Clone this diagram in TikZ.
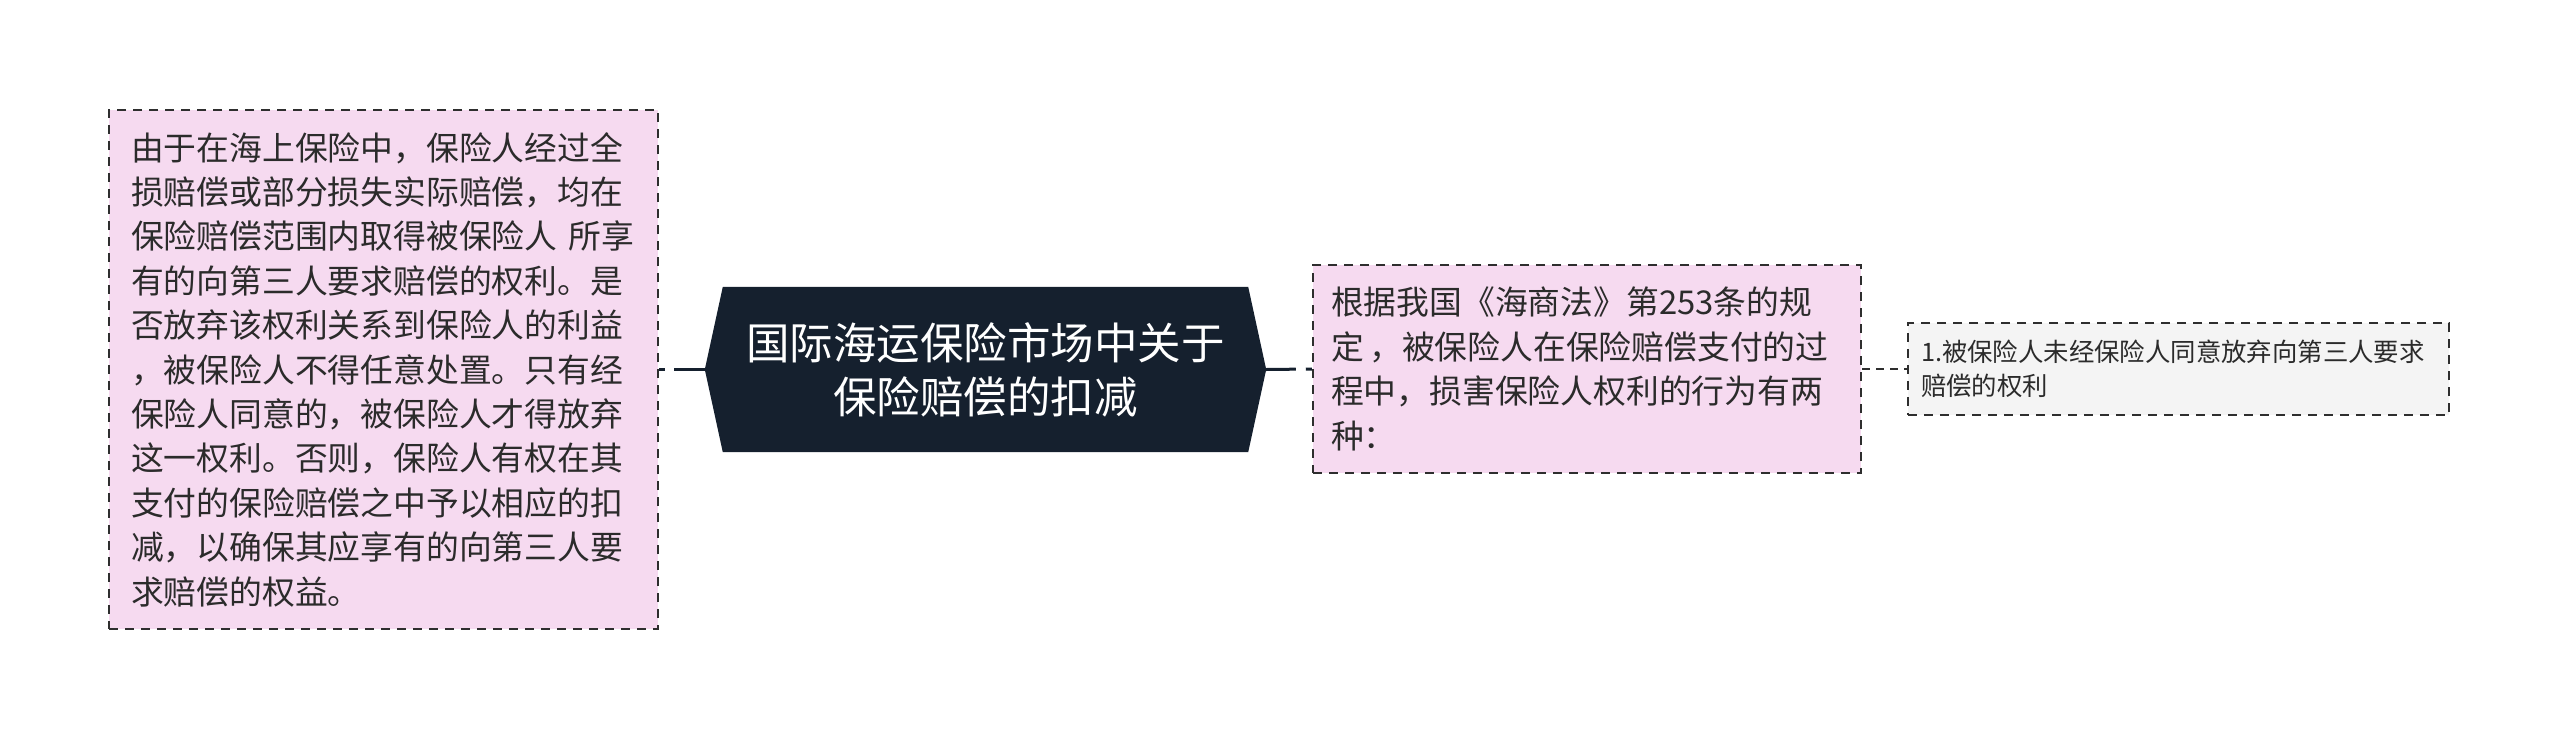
\documentclass[tikz,border=0pt]{standalone}
\usepackage{fontspec}
\setmainfont{Noto Sans CJK SC}
\usetikzlibrary{backgrounds}
\definecolor{pinkfill}{HTML}{F6DAF0}
\definecolor{grayfill}{HTML}{F4F4F4}
\definecolor{navy}{HTML}{15202E}
\definecolor{bordercol}{HTML}{2E2E2E}
\definecolor{txt}{HTML}{2B2B2B}
\begin{document}
\begin{tikzpicture}[x=1pt,y=-1pt,
  box/.style={draw=bordercol, line width=2.5pt, dash pattern=on 9pt off 7pt, align=left, text=txt, inner ysep=0pt},
  pinkbox/.style={box, fill=pinkfill},
  graybox/.style={box, fill=grayfill, line width=2pt},
  bigtext/.style={font=\fontsize{32.8pt}{44.4pt}\selectfont},
  smalltext/.style={font=\fontsize{25.4pt}{34pt}\selectfont},
  hextext/.style={font=\fontsize{43.5pt}{54pt}\selectfont, text=white, align=center, minimum width=525pt, minimum height=165pt, inner sep=0pt},
  conn/.style={draw=navy, line width=3pt},
  thinconn/.style={draw=bordercol, line width=2pt, dash pattern=on 8pt off 6pt}
]
\useasboundingbox (0,0) rectangle (2560,739);

\node[pinkbox, bigtext, minimum width=549pt, minimum height=519pt, text width=505pt, inner xsep=22pt] (L) at (383.5,369.5)
{由于在海上保险中，保险人经过全\\
损赔偿或部分损失实际赔偿，均在\\
保险赔偿范围内取得被保险人 所享\\
有的向第三人要求赔偿的权利。是\\
否放弃该权利关系到保险人的利益\\
，被保险人不得任意处置。只有经\\
保险人同意的，被保险人才得放弃\\
这一权利。否则，保险人有权在其\\
支付的保险赔偿之中予以相应的扣\\
减，以确保其应享有的向第三人要\\
求赔偿的权益。};

\node[hextext] (C) at (985.5,369.5) {国际海运保险市场中关于\\保险赔偿的扣减};
\begin{scope}[on background layer]
\fill[navy] ([xshift=-18pt]C.west) -- (C.north west) -- (C.north east) -- ([xshift=18pt]C.east) -- (C.south east) -- (C.south west) -- cycle;
\end{scope}

\node[pinkbox, bigtext, minimum width=548pt, minimum height=208pt, text width=512pt, inner xsep=18pt] (M) at (1587,369)
{根据我国《海商法》第253条的规\\
定\,，被保险人在保险赔偿支付的过\\
程中，损害保险人权利的行为有两\\
种：};

\node[graybox, smalltext, minimum width=541pt, minimum height=92pt, text width=521pt, inner xsep=10pt] (R) at (2178.5,369)
{\hspace*{3pt}1.被保险人未经保险人同意放弃向第三人要求\\
\hspace*{3pt}赔偿的权利};

\draw[conn, dash pattern=on 6pt off 9pt on 60pt off 1pt] (L.east) -- ([xshift=-18pt]C.west);
\draw[conn, dash pattern=on 6pt off 10pt on 60pt off 1pt] (M.west) -- ([xshift=18pt]C.east);
\draw[thinconn] (M.east) -- (R.west);
\end{tikzpicture}
\end{document}
